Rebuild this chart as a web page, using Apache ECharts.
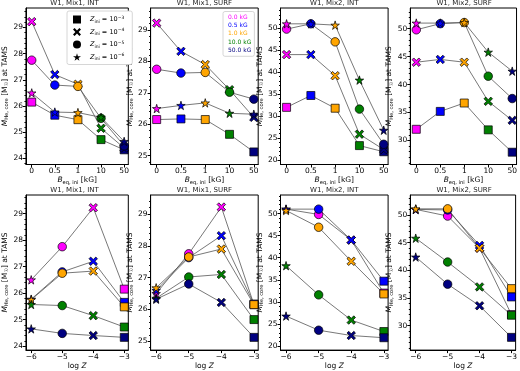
<!DOCTYPE html>
<html>
<head>
<meta charset="utf-8">
<script src="https://cdn.jsdelivr.net/npm/echarts@6/dist/echarts.min.js"></script>
<style>
  html, body { margin: 0; padding: 0; background: #fff; }
  #chart { width: 520px; height: 371px; }
</style>
</head>
<body>
<div id="chart"></div>
<script>
// x values of the top row: B_eq,ini in kG (equally spaced positions)
const bTickLabels = ['0', '0.5', '1', '10', '50'];
const bNames = ['0.0 kG', '0.5 kG', '1.0 kG', '10.0 kG', '50.0 kG'];
const bColors = ['#ff00ff', '#0000ff', '#ffa500', '#008000', '#000080'];

// Z_ini rows: 1e-3, 1e-4, 1e-5, 1e-6
const zNames = ['Z=1e-3', 'Z=1e-4', 'Z=1e-5', 'Z=1e-6'];
const zExp = ['−3', '−4', '−5', '−6'];
const logZ = [-3, -4, -5, -6];
const logZTicks = [-6, -5, -4, -3];

// M_He,core at TAMS, rows = Z_ini (1e-3 .. 1e-6), columns = B_eq,ini (0 .. 50 kG)
const mix1Int = [
  [26.15, 25.65, 25.48, 24.72, 24.33],
  [29.22, 27.20, 26.83, 25.15, 24.40],
  [27.75, 26.80, 26.75, 25.53, 24.48],
  [26.50, 25.77, 25.75, 25.57, 24.65]
];
const mix1Surf = [
  [26.15, 26.17, 26.15, 25.68, 25.12],
  [29.22, 28.32, 27.90, 27.10, 26.22],
  [27.75, 27.63, 27.65, 27.02, 26.80],
  [26.50, 26.60, 26.68, 26.35, 26.32]
];
const mix2Int = [
  [32.0, 34.7, 31.8, 23.3, 21.9],
  [44.0, 44.0, 39.2, 25.9, 22.4],
  [49.8, 51.0, 46.9, 31.6, 23.6],
  [51.0, 51.0, 50.7, 38.2, 26.8]
];
const mix2Surf = [
  [32.0, 35.2, 36.7, 31.9, 27.9],
  [44.0, 44.5, 44.0, 37.0, 33.6],
  [49.8, 50.9, 51.1, 41.5, 37.5],
  [51.0, 51.0, 51.1, 45.8, 42.4]
];

const panelTitles = ['W1, Mix1, INT', 'W1, Mix1, SURF', 'W1, Mix2, INT', 'W1, Mix2, SURF'];
const mix1IntTicks = [24, 25, 26, 27, 28, 29];
const mix1SurfTicks = [25, 26, 27, 28, 29];
const mix2IntTicks = [20, 25, 30, 35, 40, 45, 50];
const mix2SurfTicks = [30, 35, 40, 45, 50];

const panelData = [mix1Int, mix1Surf, mix2Int, mix2Surf];
const panelTicks = [mix1IntTicks, mix1SurfTicks, mix2IntTicks, mix2SurfTicks];

// marker per Z_ini: square, filled X, circle, star
const xPath = 'path://M2,0L5,3L8,0L10,2L7,5L10,8L8,10L5,7L2,10L0,8L3,5L0,2Z';
const starPath = 'path://M50,0L61,35L98,35L68,57L79,91L50,70L21,91L32,57L2,35L39,35Z';
const zSymbols = ['rect', xPath, 'circle', starPath];
const zSizes = [8, 8.5, 8.5, 8.5];

const FONT = 'DejaVu Sans';
const colLeft = [20.7, 150.6, 280.5, 410.3];
const rowTop = [8, 195];
const gridW = 107.6, gridH = 156.5;
// y extents per panel: [top row, bottom row]
const yExt = [
  [[23.77, 29.74], [23.85, 29.7]],
  [[24.72, 29.7], [24.72, 29.6]],
  [[19.0, 54.6], [19.1, 54.2]],
  [[25.7, 53.7], [25.6, 53.6]]
];

const subRich = {
  i: { fontStyle: 'italic', fontSize: 7.5, fontFamily: FONT, lineHeight: 9 },
  s: { fontSize: 5.2, fontFamily: FONT, verticalAlign: 'bottom', lineHeight: 9 },
  n: { fontSize: 7.5, fontFamily: FONT, lineHeight: 9 }
};

const grids = [], xAxes = [], yAxes = [], series = [], titles = [];

for (let r = 0; r < 2; r++) {
  for (let c = 0; c < 4; c++) {
    const idx = r * 4 + c;
    grids.push({
      left: colLeft[c], top: rowTop[r], width: gridW, height: gridH,
      show: true, borderColor: '#000', borderWidth: 1
    });
    titles.push({
      text: panelTitles[c], left: colLeft[c] + gridW / 2, top: r === 0 ? 0 : 187,
      textAlign: 'center', padding: 0,
      textStyle: { fontSize: 7, fontWeight: 'normal', fontFamily: FONT, color: '#222' }
    });
    const ticks = panelTicks[c];
    const step = ticks[1] - ticks[0];
    const ext = yExt[c][r];
    yAxes.push({
      gridIndex: idx, type: 'value', min: ext[0], max: ext[1],
      minInterval: step, maxInterval: step, splitNumber: step === 1 ? 5 : 7,
      axisLine: { show: true, onZero: false, lineStyle: { color: '#000', width: 1 } },
      axisTick: { show: true, customValues: ticks, length: 3, lineStyle: { color: '#000' } },
      minorTick: { show: true, splitNumber: 5, length: 1.5, lineStyle: { color: '#000' } },
      axisLabel: { customValues: ticks, fontSize: 7.5, fontFamily: FONT, color: '#000', margin: 3 },
      splitLine: { show: false },
      name: '{i|M}{s|He, core} {n|[M}{s|☉}{n|] at TAMS}',
      nameLocation: 'middle', nameGap: 14, nameRotate: 90,
      nameTextStyle: { color: '#000', fontSize: 7.5, fontFamily: FONT, rich: subRich }
    });
    if (r === 0) {
      xAxes.push({
        gridIndex: idx, type: 'value', min: -0.25, max: 4.18,
        axisLine: { show: true, onZero: false, lineStyle: { color: '#000', width: 1 } },
        axisTick: { show: true, customValues: [0, 1, 2, 3, 4], length: 3, lineStyle: { color: '#000' } },
        axisLabel: {
          customValues: [0, 1, 2, 3, 4], fontSize: 7.5, fontFamily: FONT, color: '#000', margin: 3,
          formatter: v => bTickLabels[Math.round(v)]
        },
        splitLine: { show: false },
        name: '{i|B}{s|eq, ini} {n|[kG]}', nameLocation: 'middle', nameGap: 11,
        nameTextStyle: { color: '#000', fontSize: 7.5, fontFamily: FONT, rich: subRich }
      });
      panelData[c].forEach((vals, i) => {
        series.push({
          type: 'line', name: zNames[i], xAxisIndex: idx, yAxisIndex: idx,
          symbol: zSymbols[i], symbolSize: zSizes[i], animation: false,
          lineStyle: { color: '#555', width: 0.8 },
          itemStyle: { color: '#000', borderColor: '#000', borderWidth: 0.7, opacity: 1 },
          data: vals.map((v, j) => ({ value: [j, v], itemStyle: { color: bColors[j] } }))
        });
      });
    } else {
      xAxes.push({
        gridIndex: idx, type: 'value', min: -6.17, max: -2.87,
        axisLine: { show: true, onZero: false, lineStyle: { color: '#000', width: 1 } },
        axisTick: { show: true, customValues: logZTicks, length: 3, lineStyle: { color: '#000' } },
        axisLabel: {
          customValues: logZTicks, fontSize: 7.5, fontFamily: FONT, color: '#000', margin: 3,
          formatter: v => String(v).replace('-', '−')
        },
        splitLine: { show: false },
        name: '{n|log} {i|Z}', nameLocation: 'middle', nameGap: 11,
        nameTextStyle: { color: '#000', fontSize: 7.5, fontFamily: FONT, rich: subRich }
      });
      bNames.forEach((bn, j) => {
        series.push({
          type: 'line', name: bn, xAxisIndex: idx, yAxisIndex: idx, animation: false,
          lineStyle: { color: '#555', width: 0.8 },
          itemStyle: { color: bColors[j], borderColor: '#000', borderWidth: 0.7, opacity: 1 },
          data: [3, 2, 1, 0].map(i => ({
            value: [logZ[i], panelData[c][i][j]], symbol: zSymbols[i], symbolSize: zSizes[i]
          }))
        });
      });
    }
  }
}

const legends = [
  {
    left: 67, top: 11, orient: 'vertical', selectedMode: false,
    itemWidth: 8, itemHeight: 8, itemGap: 3.5, padding: [4, 8, 3, 6],
    borderColor: '#ccc', borderWidth: 0.8, borderRadius: 2, backgroundColor: '#fff',
    data: zNames.map((n, i) => ({ name: n, icon: zSymbols[i], itemStyle: { color: '#000', borderWidth: 0 } })),
    formatter: name => '{i|Z}{s|ini} {n|= 10}{p|' + zExp[zNames.indexOf(name)] + '}',
    textStyle: {
      fontSize: 6.5, fontFamily: FONT, color: '#000',
      rich: {
        i: { fontStyle: 'italic', fontSize: 6.5, fontFamily: FONT, lineHeight: 9, padding: [0, 0, 0, 4] },
        s: { fontSize: 4.5, fontFamily: FONT, verticalAlign: 'bottom', lineHeight: 9 },
        n: { fontSize: 6.5, fontFamily: FONT, lineHeight: 9 },
        p: { fontSize: 4.5, fontFamily: FONT, verticalAlign: 'top', lineHeight: 9 }
      }
    }
  },
  {
    left: 223, top: 11.5, orient: 'vertical', selectedMode: false,
    icon: 'none', itemWidth: 0, itemHeight: 6, itemGap: 2.2, padding: [3, 3, 3, 0],
    borderColor: '#ccc', borderWidth: 0.8, borderRadius: 2, backgroundColor: '#fff',
    data: bNames.map((n, j) => ({ name: n, textStyle: { color: bColors[j] } })),
    textStyle: { fontSize: 6, fontFamily: FONT }
  }
];

const chart = echarts.init(document.getElementById('chart'), null, { renderer: 'canvas' });
chart.setOption({
  animation: false,
  backgroundColor: '#fff',
  title: titles,
  grid: grids,
  xAxis: xAxes,
  yAxis: yAxes,
  legend: legends,
  series: series
});
</script>
</body>
</html>
